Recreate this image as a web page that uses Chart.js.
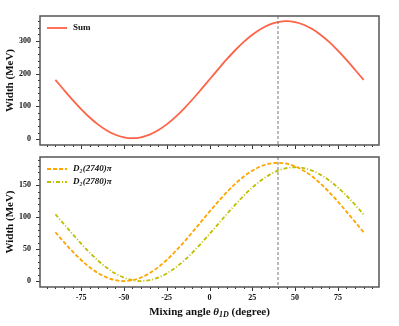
<!DOCTYPE html>
<html>
<head>
<meta charset="utf-8">
<script src="https://cdn.jsdelivr.net/npm/chart.js@4.4.1/dist/chart.umd.min.js"></script>
<style>
  html, body { margin: 0; padding: 0; background: #fff; }
  #wrap { position: relative; width: 399px; height: 326px; }
  #top { position: absolute; left: 0; top: 0; }
  #bot { position: absolute; left: 0; top: 150px; }
</style>
</head>
<body>
<div id="wrap">
  <canvas id="top" width="399" height="150"></canvas>
  <canvas id="bot" width="399" height="176"></canvas>
</div>
<script>
// ---- data ----
const angles = [-90,-85,-80,-75,-70,-65,-60,-55,-50,-45,-40,-35,-30,-25,-20,-15,-10,-5,0,5,10,15,20,25,30,35,40,45,50,55,60,65,70,75,80,85,90];
const sumWidth = [180.9,149.9,119.8,91.6,66.1,44.2,26.4,13.3,5.4,2.8,5.6,13.8,27.0,44.9,67.1,92.7,120.9,151.1,182.1,213.1,243.3,271.4,296.9,318.8,336.6,349.7,357.6,360.2,357.4,349.2,336.0,318.1,296.0,270.3,242.1,211.9,180.9];
const d2740Width = [76.4,60.9,46.3,33.0,21.6,12.4,5.6,1.4,0,1.4,5.6,12.4,21.6,33.0,46.3,60.9,76.4,92.5,108.6,124.1,138.8,152.0,163.4,172.6,179.4,183.6,185,183.6,179.4,172.6,163.4,152.0,138.8,124.1,108.6,92.5,76.4];
const d2780Width = [104.5,89.0,73.5,58.6,44.5,31.8,20.8,11.9,5.4,1.4,0,1.4,5.4,11.9,20.8,31.8,44.5,58.6,73.5,89.0,104.5,119.4,133.5,146.2,157.2,166.1,172.6,176.6,178,176.6,172.6,166.1,157.2,146.2,133.5,119.4,104.5];
const xTicks = [-75,-50,-25,0,25,50,75];
const topYTicks = [0,100,200,300];
const botYTicks = [0,50,100,150];
const markAngle = 40;
const seriesLabels = ['Sum','D₂(2740)π','D₂(2780)π'];
const yTitle = 'Width (MeV)';
const xTitleParts = ['Mixing angle ', 'θ', '1D', ' (degree)'];

const SERIF = "'Liberation Serif', 'DejaVu Serif', serif";
const pts = (vals) => angles.map((a, i) => ({x: a, y: vals[i]}));

function drawRich(ctx, parts, cx, cy) {
  let total = 0;
  parts.forEach(p => { ctx.font = p.font; p.w = ctx.measureText(p.t).width; total += p.w; });
  let x = cx - total / 2;
  ctx.textBaseline = 'middle';
  ctx.textAlign = 'left';
  parts.forEach(p => { ctx.font = p.font; ctx.fillText(p.t, x, cy + (p.dy || 0)); x += p.w; });
}

const decor = {
  id: 'decor',
  afterDatasetsDraw(chart, args, opts) {
    const {ctx, chartArea: a, scales: {x, y}} = chart;
    ctx.save();
    // marker line
    const mx = x.getPixelForValue(markAngle);
    ctx.strokeStyle = '#777'; ctx.lineWidth = 1; ctx.setLineDash([3, 2]);
    ctx.beginPath(); ctx.moveTo(mx, a.top); ctx.lineTo(mx, a.bottom); ctx.stroke();
    ctx.setLineDash([]);
    // ticks
    ctx.strokeStyle = '#333'; ctx.lineWidth = 1;
    ctx.beginPath();
    for (let v = -95; v <= 95; v += 5) {
      const px = Math.round(x.getPixelForValue(v)) + 0.5;
      const len = xTicks.includes(v) ? 4 : 2;
      ctx.moveTo(px, a.bottom); ctx.lineTo(px, a.bottom + len);
    }
    const step = opts.yMinor;
    for (let v = Math.ceil(y.min / step) * step; v <= y.max; v += step) {
      const py = Math.round(y.getPixelForValue(v)) + 0.5;
      const len = (v % opts.yMajor === 0) ? 4 : 2;
      ctx.moveTo(a.left, py); ctx.lineTo(a.left - len, py);
    }
    ctx.stroke();
    // frame
    ctx.strokeStyle = '#555'; ctx.lineWidth = 1.5;
    ctx.strokeRect(a.left, a.top, a.right - a.left, a.bottom - a.top);
    // legend
    chart.data.datasets.forEach((ds, i) => {
      const ly = a.top + 12 + i * 13;
      ctx.strokeStyle = ds.borderColor; ctx.lineWidth = ds.borderWidth;
      ctx.setLineDash(ds.borderDash || []);
      ctx.beginPath(); ctx.moveTo(a.left + 7, ly); ctx.lineTo(a.left + 27, ly); ctx.stroke();
      ctx.setLineDash([]);
      ctx.fillStyle = '#111';
      ctx.font = (opts.italic ? 'italic ' : '') + 'bold 9px ' + SERIF;
      ctx.textBaseline = 'middle'; ctx.textAlign = 'left';
      ctx.fillText(ds.label, a.left + 33, ly);
    });
    // x title
    if (opts.xTitle) {
      ctx.fillStyle = '#111';
      drawRich(ctx, [
        {t: xTitleParts[0], font: 'bold 11px ' + SERIF},
        {t: xTitleParts[1], font: 'italic bold 11px ' + SERIF},
        {t: xTitleParts[2], font: 'italic bold 8px ' + SERIF, dy: 3},
        {t: xTitleParts[3], font: 'bold 11px ' + SERIF}
      ], (a.left + a.right) / 2, a.bottom + 25);
    }
    ctx.restore();
  }
};

function makeOptions(ymin, ymax, yTicks, showXLabels, xHeight, padTop, decorOpts) {
  return {
    responsive: false,
    animation: false,
    layout: {padding: {top: padTop, right: 20, left: 0, bottom: 0}},
    plugins: {legend: {display: false}, tooltip: {enabled: false}, decor: decorOpts},
    elements: {point: {radius: 0}, line: {tension: 0.4, cubicInterpolationMode: 'monotone'}},
    scales: {
      x: {
        type: 'linear', min: -99, max: 99,
        grid: {display: false, drawTicks: false}, border: {display: false},
        afterBuildTicks: s => { s.ticks = xTicks.map(v => ({value: v})); },
        afterFit: s => { s.height = xHeight; s.paddingLeft = 0; s.paddingRight = 0; s.paddingTop = 0; s.paddingBottom = 0; },
        ticks: {display: showXLabels, padding: 6, color: '#111', maxRotation: 0,
                font: {family: SERIF, size: 8, weight: 'bold'}}
      },
      y: {
        type: 'linear', min: ymin, max: ymax,
        grid: {display: false, drawTicks: false}, border: {display: false},
        afterBuildTicks: s => { s.ticks = yTicks.map(v => ({value: v})); },
        afterFit: s => { s.width = 40; s.paddingTop = 0; s.paddingBottom = 0; s.paddingLeft = 0; s.paddingRight = 0; },
        ticks: {padding: 9, color: '#111', font: {family: SERIF, size: 8, weight: 'bold'}},
        title: {display: true, text: yTitle, color: '#111', padding: {top: 4, bottom: 0},
                font: {family: SERIF, size: 11, weight: 'bold'}}
      }
    }
  };
}

new Chart(document.getElementById('top'), {
  type: 'line',
  data: {datasets: [
    {label: seriesLabels[0], data: pts(sumWidth), borderColor: '#FF6347', borderWidth: 1.8, fill: false}
  ]},
  options: makeOptions(-18, 376, topYTicks, false, 5, 16, {yMinor: 20, yMajor: 100, italic: false, xTitle: false}),
  plugins: [decor]
});

new Chart(document.getElementById('bot'), {
  type: 'line',
  data: {datasets: [
    {label: seriesLabels[1], data: pts(d2740Width), borderColor: '#FFA500', borderWidth: 1.8, borderDash: [4, 2], fill: false},
    {label: seriesLabels[2], data: pts(d2780Width), borderColor: '#BFBF00', borderWidth: 1.8, borderDash: [4, 2, 1, 2], fill: false}
  ]},
  options: makeOptions(-9.25, 194, botYTicks, true, 39, 7, {yMinor: 10, yMajor: 50, italic: true, xTitle: true}),
  plugins: [decor]
});
</script>
</body>
</html>
